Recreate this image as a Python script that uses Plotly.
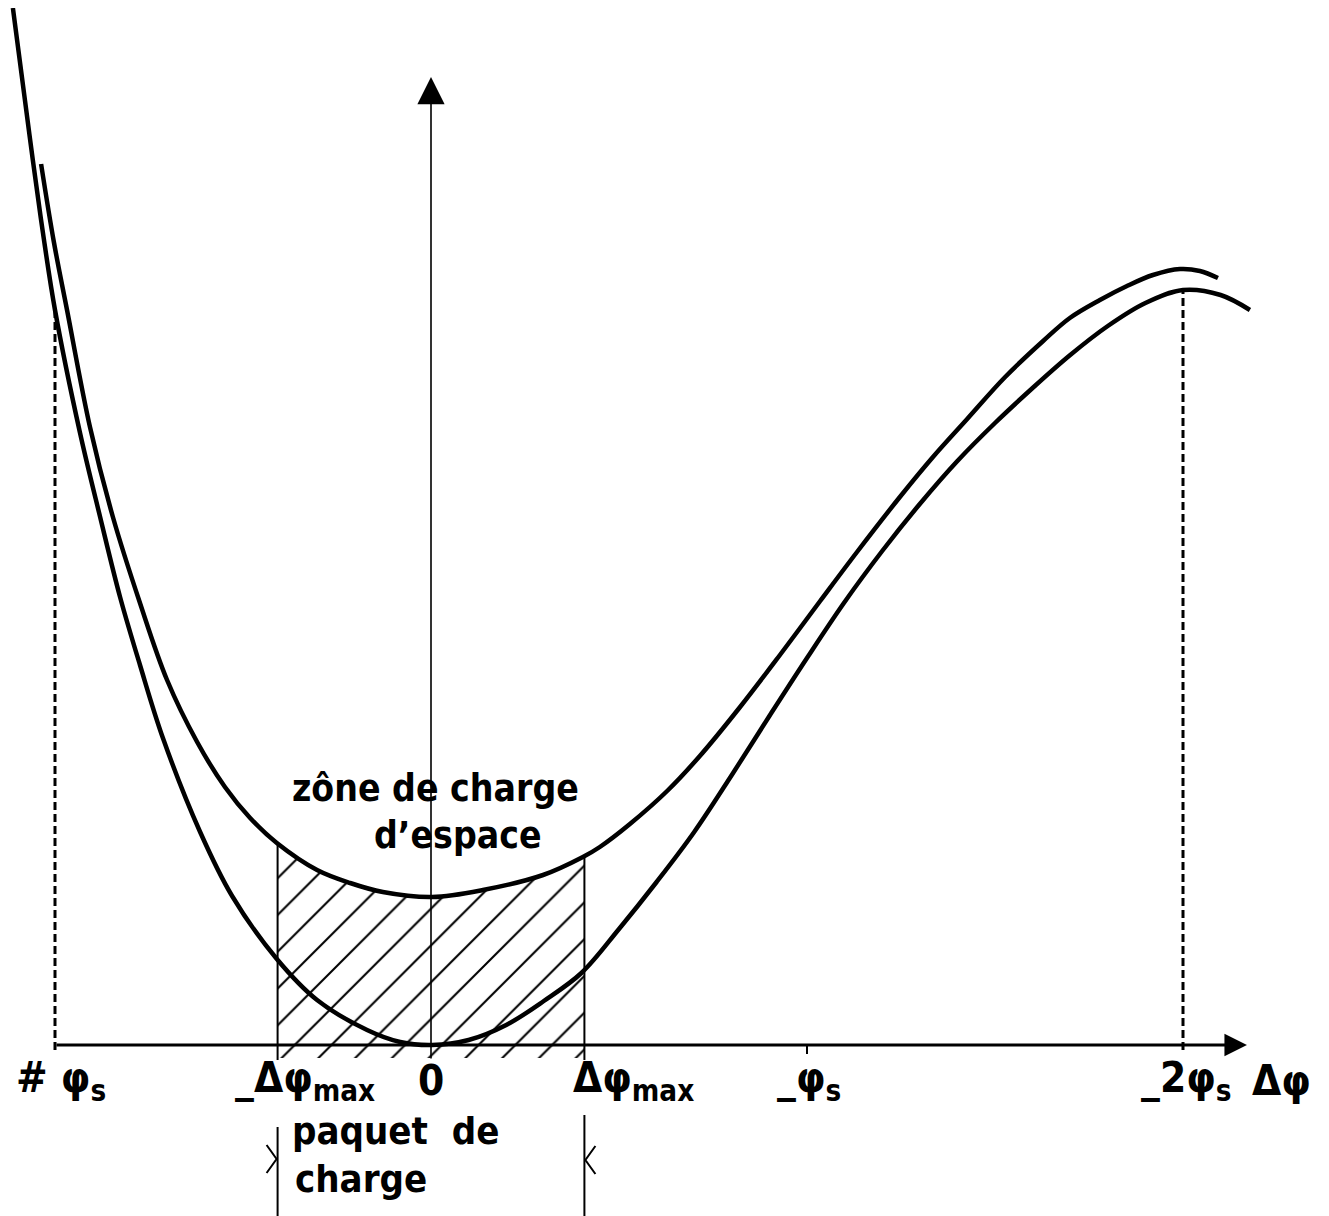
import numpy as np
import plotly.graph_objects as go

# ---- data (x in units of phi_s, 0 on the vertical axis; y = potential, arbitrary units) ----
upper_x = [-1.037, -1.003, -0.968, -0.907, -0.846, -0.774, -0.702, -0.622, -0.548, -0.481,
           -0.410, -0.303, -0.215, -0.128, 0.003, 0.138, 0.298, 0.404, 0.449, 0.529,
           0.628, 0.715, 0.822, 0.928, 1.035, 1.133, 1.247, 1.335, 1.426, 1.527,
           1.628, 1.699, 1.779, 1.851, 1.920, 1.992, 2.045, 2.093]
upper_y = [8.81, 8.03, 7.35, 6.18, 5.28, 4.42, 3.65, 3.03, 2.58, 2.27,
           2.02, 1.75, 1.62, 1.53, 1.48, 1.55, 1.70, 1.88, 1.98, 2.21,
           2.54, 2.89, 3.38, 3.90, 4.44, 4.93, 5.48, 5.88, 6.26, 6.68,
           7.04, 7.27, 7.45, 7.59, 7.70, 7.76, 7.74, 7.67]

lower_x = [-1.112, -1.080, -1.059, -1.032, -1.000, -0.934, -0.880, -0.827, -0.774, -0.713,
           -0.614, -0.529, -0.410, -0.303, -0.170, -0.082, 0.003, 0.1, 0.2, 0.3,
           0.4, 0.5, 0.6, 0.7, 0.8, 0.9, 1.0, 1.1, 1.2, 1.3,
           1.4, 1.5, 1.6, 1.7, 1.8, 1.9, 2.0, 2.1, 2.178]
lower_y = [10.37, 9.45, 8.85, 8.12, 7.35, 6.13, 5.28, 4.48, 3.80, 3.07,
           2.13, 1.49, 0.86, 0.45, 0.15, 0.03, 0.00, 0.05, 0.20, 0.44,
           0.72, 1.16, 1.63, 2.13, 2.70, 3.29, 3.87, 4.43, 4.94, 5.41,
           5.84, 6.22, 6.57, 6.90, 7.19, 7.42, 7.55, 7.50, 7.35]

PHI_S = 1.0
DPHI_MAX = 0.408
tick_vals = [-PHI_S, -DPHI_MAX, 0.0, DPHI_MAX, PHI_S, 2 * PHI_S]
tick_labels = ["#\u00a0φ<sub>s</sub>", "_Δφ<sub>max</sub>", "0", "Δφ<sub>max</sub>",
               "_φ<sub>s</sub>", "_2φ<sub>s</sub>"]
tick_label_shift = [6, 27, 0, 49, 2, 3]   # px, label centre relative to tick
axis_label = "Δφ"

FONT = "DejaVu Sans Condensed, DejaVu Sans, sans-serif"
BLACK = "black"
PX = 1 / 376.0          # one pixel in x data units
PY = 1 / 100.0          # one pixel in y data units


def seg(xs, ys, width=2.0, dash=None):
    fig.add_trace(go.Scatter(x=xs, y=ys, mode="lines",
                             line=dict(color=BLACK, width=width, dash=dash),
                             showlegend=False, hoverinfo="skip"))


fig = go.Figure()

# hatched "paquet de charge" region (bounded above by the upper curve)
inside = [(x, y) for x, y in zip(upper_x, upper_y) if -DPHI_MAX < x < DPHI_MAX]
y_left = float(np.interp(-DPHI_MAX, upper_x, upper_y))
y_right = float(np.interp(DPHI_MAX, upper_x, upper_y))
hbot = -13 * PY
poly_x = [-DPHI_MAX, -DPHI_MAX] + [p[0] for p in inside] + [DPHI_MAX, DPHI_MAX]
poly_y = [hbot, y_left] + [p[1] for p in inside] + [y_right, hbot]
fig.add_trace(go.Scatter(
    x=poly_x, y=poly_y, mode="lines", fill="toself", line=dict(width=0),
    fillcolor="rgba(0,0,0,0)",
    fillpattern=dict(shape="/", size=26, solidity=0.08, fgcolor=BLACK,
                     bgcolor="rgba(0,0,0,0)", fillmode="replace"),
    hoverinfo="skip", showlegend=False))

# vertical lines at +/- dphi_max (interrupted by the labels)
for xv, ytop, ylow in [(-DPHI_MAX, y_left, -0.82), (DPHI_MAX, y_right, -0.70)]:
    seg([xv, xv], [ytop, -0.15])
    seg([xv, xv], [ylow, -1.75])

# small chevrons pointing at the packet limits
yc_l, yc_r = -1.14, -1.15
seg([-DPHI_MAX - 11 * PX, -DPHI_MAX - 1 * PX, -DPHI_MAX - 11 * PX],
    [yc_l + 14 * PY, yc_l, yc_l - 14 * PY], width=2)
seg([DPHI_MAX + 11 * PX, DPHI_MAX + 1 * PX, DPHI_MAX + 11 * PX],
    [yc_r + 14 * PY, yc_r, yc_r - 14 * PY], width=2)

# dashed verticals at phi_s and -2 phi_s
for xv in [-PHI_S, 2 * PHI_S]:
    ytop = float(np.interp(xv, lower_x, lower_y))
    seg([xv, xv], [-0.05, ytop], width=3, dash="8px,4px")

# small tick at -phi_s
seg([PHI_S, PHI_S], [0, -0.09])

# curves
for cx, cy in [(upper_x, upper_y), (lower_x, lower_y)]:
    fig.add_trace(go.Scatter(x=cx, y=cy, mode="lines",
                             line=dict(color=BLACK, width=4.5, shape="spline", smoothing=1),
                             showlegend=False, hoverinfo="skip"))

ann = []
# axes with arrows
ann.append(dict(x=2.170, y=0, ax=-PHI_S, ay=0, xref="x", yref="y", axref="x", ayref="y",
                showarrow=True, arrowhead=2, arrowsize=1.5, arrowwidth=3, arrowcolor=BLACK, text=""))
ann.append(dict(x=0, y=9.68, ax=0, ay=-0.15, xref="x", yref="y", axref="x", ayref="y",
                showarrow=True, arrowhead=2, arrowsize=3.4, arrowwidth=1.6, arrowcolor=BLACK, text=""))

lab_font = dict(family=FONT, size=42, color=BLACK, weight="bold")
# tick labels
for v, t, s in zip(tick_vals, tick_labels, tick_label_shift):
    ann.append(dict(x=v, y=-0.35, xref="x", yref="y", text=t, showarrow=False,
                    xanchor="center", yanchor="middle", xshift=s, font=lab_font))
ann.append(dict(x=2.263, y=-0.35, xref="x", yref="y", text=axis_label, showarrow=False,
                xanchor="center", yanchor="middle", font=lab_font))

# region texts
zfont = dict(family=FONT, size=37, color=BLACK, weight="bold")
pfont = dict(family=FONT, size=38, color=BLACK, weight="bold")
ann.append(dict(x=-0.375, y=2.33, text="zône de charge", showarrow=False, xanchor="left",
                yanchor="bottom", font=zfont))
ann.append(dict(x=-0.157, y=2.33, text="d’espace", showarrow=False, xanchor="left",
                yanchor="top", font=zfont))
ann.append(dict(x=-0.375, y=-1.10, text="paquet\u00a0\u00a0de", showarrow=False, xanchor="left",
                yanchor="bottom", font=pfont))
ann.append(dict(x=-0.367, y=-1.10, text="charge", showarrow=False, xanchor="left",
                yanchor="top", font=pfont))

# the page has an 8px body margin: size and ranges compensate so marks land on target pixels
fig.update_layout(
    width=1321, height=1208, margin=dict(l=0, r=0, t=0, b=0),
    paper_bgcolor="white", plot_bgcolor="white",
    xaxis=dict(range=[(8 - 431) / 376, (1329 - 431) / 376], visible=False),
    yaxis=dict(range=[(1045 - 1216) / 100, (1045 - 8) / 100], visible=False),
    annotations=ann, showlegend=False)

fig.write_html("out.html")
